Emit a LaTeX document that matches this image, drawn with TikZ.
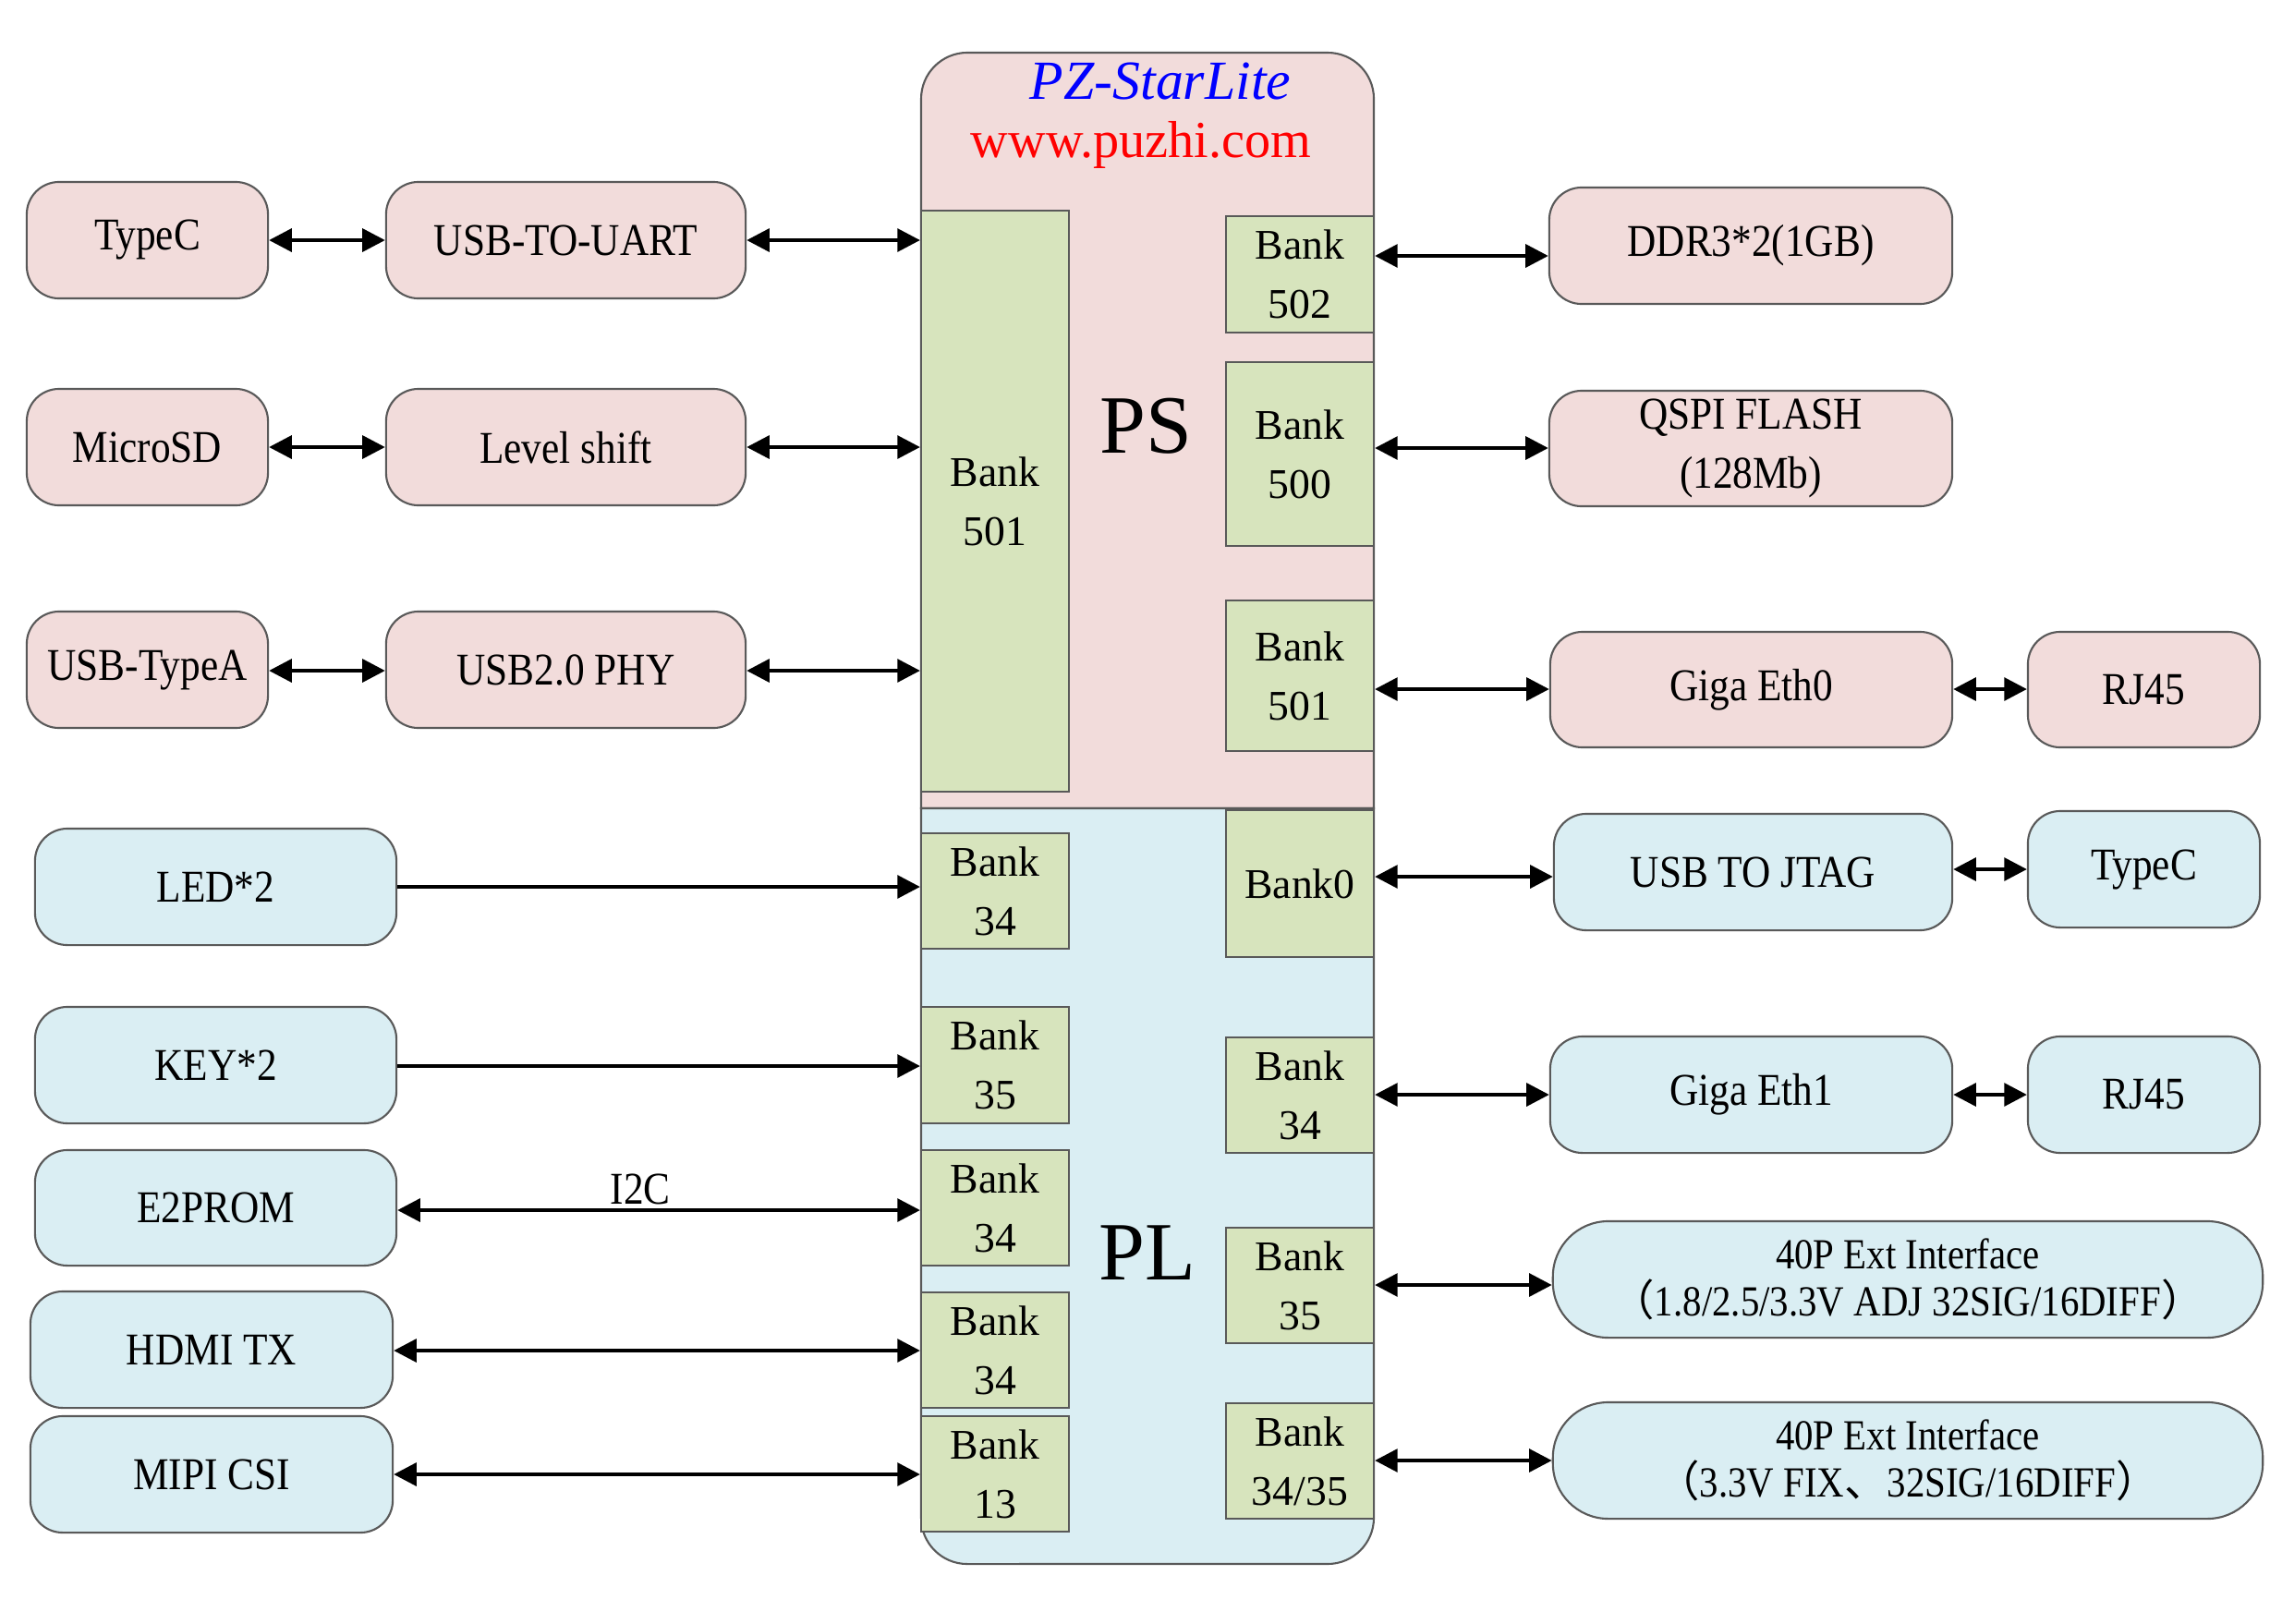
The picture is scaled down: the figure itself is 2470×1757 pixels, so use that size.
\documentclass[tikz,border=0pt]{standalone}
\usepackage{fontspec}
\setmainfont{Liberation Serif}
\newfontfamily\narrowfont[FakeStretch=0.88]{Liberation Serif}
\newfontfamily\cjkfont{Noto Sans CJK SC}
\usetikzlibrary{arrows.meta}
\definecolor{pspink}{HTML}{F2DCDB}
\definecolor{plblue}{HTML}{DAEEF3}
\definecolor{bankgreen}{HTML}{D7E4BD}
\definecolor{edgegray}{HTML}{595959}
\begin{document}
\begin{tikzpicture}[x=0.01cm,y=-0.01cm,
  outerbox/.style={draw=edgegray, line width=0.6pt, rounded corners=0.35cm, align=center, inner sep=0pt, font=\narrowfont\fontsize{14}{18}\selectfont},
  pinkbox/.style={outerbox, fill=pspink},
  bluebox/.style={outerbox, fill=plblue},
  extbox/.style={bluebox, rounded corners=0.6cm, minimum width=7.68cm, minimum height=1.26cm, font=\narrowfont\fontsize{13.2}{14.5}\selectfont},
  bankbox/.style={draw=edgegray, line width=0.6pt, fill=bankgreen, align=center, inner sep=0pt, minimum width=1.6cm, font=\fontsize{13}{18.2}\selectfont},
  biarr/.style={line width=1.2pt, {Triangle[length=7pt,width=7pt]}-{Triangle[length=7pt,width=7pt]}},
  uniarr/.style={line width=1.2pt, -{Triangle[length=7pt,width=7pt]}},
]
\useasboundingbox (0,0) rectangle (2470,1757);
\fill[white] (0,0) rectangle (2470,1757);

% chip
\draw[draw=edgegray, line width=0.6pt, fill=pspink] (997,875) -- (997,107) arc[start angle=180, end angle=90, radius=0.5cm] -- (1437,57) arc[start angle=90, end angle=0, radius=0.5cm] -- (1487,875) -- cycle;
\draw[draw=edgegray, line width=0.6pt, fill=plblue] (997,875) -- (997,1643) arc[start angle=180, end angle=270, radius=0.5cm] -- (1437,1693) arc[start angle=270, end angle=360, radius=0.5cm] -- (1487,875) -- cycle;

\node[font=\fontsize{17}{20}\selectfont\itshape, text=blue] (title) at (1256,88) {PZ-StarLite};
\node[font=\fontsize{16}{19}\selectfont, text=red, anchor=base] (url) at (1235,170) {www.puzhi.com};
\node[font=\fontsize{25.5}{30}\selectfont] (ps) at (1240,461) {PS};
\node[font=\fontsize{25.5}{30}\selectfont] (pl) at (1242,1356) {PL};

% banks left
\node[bankbox, minimum height=6.29cm] (lb501) at (1077,542.5) {Bank\\501};
\node[bankbox, minimum height=1.25cm] (lb34a) at (1077,964.5) {Bank\\34};
\node[bankbox, minimum height=1.26cm] (lb35) at (1077,1153) {Bank\\35};
\node[bankbox, minimum height=1.25cm] (lb34b) at (1077,1307.5) {Bank\\34};
\node[bankbox, minimum height=1.25cm] (lb34c) at (1077,1461.5) {Bank\\34};
\node[bankbox, minimum height=1.25cm] (lb13) at (1077,1595.5) {Bank\\13};
% banks right
\node[bankbox, minimum height=1.26cm] (rb502) at (1407,297) {Bank\\502};
\node[bankbox, minimum height=1.99cm] (rb500) at (1407,491.5) {Bank\\500};
\node[bankbox, minimum height=1.63cm] (rb501) at (1407,731.5) {Bank\\501};
\node[bankbox, minimum height=1.59cm] (rb0) at (1407,956.5) {Bank0};
\node[bankbox, minimum height=1.25cm] (rb34) at (1407,1185.5) {Bank\\34};
\node[bankbox, minimum height=1.25cm] (rb35) at (1407,1391.5) {Bank\\35};
\node[bankbox, minimum height=1.25cm] (rb3435) at (1407,1581.5) {Bank\\34/35};

% left outer boxes
\node[pinkbox, minimum width=2.61cm, minimum height=1.26cm] (typecL) at (159.5,260) {TypeC};
\node[pinkbox, minimum width=3.89cm, minimum height=1.26cm] (uart) at (612.5,260) {USB-TO-UART};
\node[pinkbox, minimum width=2.61cm, minimum height=1.26cm] (sd) at (159.5,484) {MicroSD};
\node[pinkbox, minimum width=3.89cm, minimum height=1.26cm] (level) at (612.5,484) {Level shift};
\node[pinkbox, minimum width=2.61cm, minimum height=1.26cm] (typea) at (159.5,725) {USB-TypeA};
\node[pinkbox, minimum width=3.89cm, minimum height=1.26cm] (phy) at (612.5,725) {USB2.0 PHY};
\node[bluebox, minimum width=3.91cm, minimum height=1.26cm] (led) at (233.5,960) {LED*2};
\node[bluebox, minimum width=3.91cm, minimum height=1.26cm] (key) at (233.5,1153) {KEY*2};
\node[bluebox, minimum width=3.91cm, minimum height=1.25cm] (e2p) at (233.5,1307.5) {E2PROM};
\node[bluebox, minimum width=3.92cm, minimum height=1.26cm] (hdmi) at (229,1461) {HDMI TX};
\node[bluebox, minimum width=3.92cm, minimum height=1.26cm] (mipi) at (229,1596) {MIPI CSI};

% right outer boxes
\node[pinkbox, minimum width=4.36cm, minimum height=1.26cm] (ddr) at (1895,266) {DDR3*2(1GB)};
\node[pinkbox, minimum width=4.36cm, minimum height=1.25cm] (qspi) at (1895,485.5) {QSPI FLASH\\(128Mb)};
\node[pinkbox, minimum width=4.35cm, minimum height=1.25cm] (eth0) at (1895.5,746.5) {Giga Eth0};
\node[pinkbox, minimum width=2.51cm, minimum height=1.25cm] (rj45a) at (2320.5,746.5) {RJ45};
\node[bluebox, minimum width=4.31cm, minimum height=1.26cm] (jtag) at (1897.5,944) {USB TO JTAG};
\node[bluebox, minimum width=2.51cm, minimum height=1.26cm] (typecR) at (2320.5,941) {TypeC};
\node[bluebox, minimum width=4.35cm, minimum height=1.26cm] (eth1) at (1895.5,1185) {Giga Eth1};
\node[bluebox, minimum width=2.51cm, minimum height=1.26cm] (rj45b) at (2320.5,1185) {RJ45};
\node[extbox] (ext1) at (2065,1385) {40P Ext Interface\\{\cjkfont （}1.8/2.5/3.3V ADJ 32SIG/16DIFF{\cjkfont ）}};
\node[extbox] (ext2) at (2065,1581) {40P Ext Interface\\{\cjkfont （}3.3V FIX{\cjkfont 、}32SIG/16DIFF{\cjkfont ）}};

% left connectors
\draw[biarr] (typecL.east |- 0,260) -- (uart.west |- 0,260);
\draw[biarr] (uart.east |- 0,260) -- (lb501.west |- 0,260);
\draw[biarr] (sd.east |- 0,484) -- (level.west |- 0,484);
\draw[biarr] (level.east |- 0,484) -- (lb501.west |- 0,484);
\draw[biarr] (typea.east |- 0,726) -- (phy.west |- 0,726);
\draw[biarr] (phy.east |- 0,726) -- (lb501.west |- 0,726);
\draw[uniarr] (led.east |- 0,960) -- (lb34a.west |- 0,960);
\draw[uniarr] (key.east |- 0,1154) -- (lb35.west |- 0,1154);
\draw[biarr] (e2p.east |- 0,1310) -- node[pos=0.465, anchor=south, inner sep=1pt, font=\narrowfont\fontsize{14}{18}\selectfont] (i2c) {I2C} (lb34b.west |- 0,1310);
\draw[biarr] (hdmi.east |- 0,1462) -- (lb34c.west |- 0,1462);
\draw[biarr] (mipi.east |- 0,1596) -- (lb13.west |- 0,1596);

% right connectors
\draw[biarr] (rb502.east |- 0,277) -- (ddr.west |- 0,277);
\draw[biarr] (rb500.east |- 0,485) -- (qspi.west |- 0,485);
\draw[biarr] (rb501.east |- 0,746) -- (eth0.west |- 0,746);
\draw[biarr] (eth0.east |- 0,746) -- (rj45a.west |- 0,746);
\draw[biarr] (rb0.east |- 0,949) -- (jtag.west |- 0,949);
\draw[biarr] (jtag.east |- 0,941) -- (typecR.west |- 0,941);
\draw[biarr] (rb34.east |- 0,1185) -- (eth1.west |- 0,1185);
\draw[biarr] (eth1.east |- 0,1185) -- (rj45b.west |- 0,1185);
\draw[biarr] (rb35.east |- 0,1391) -- (ext1.west |- 0,1391);
\draw[biarr] (rb3435.east |- 0,1581) -- (ext2.west |- 0,1581);
\end{tikzpicture}
\end{document}
